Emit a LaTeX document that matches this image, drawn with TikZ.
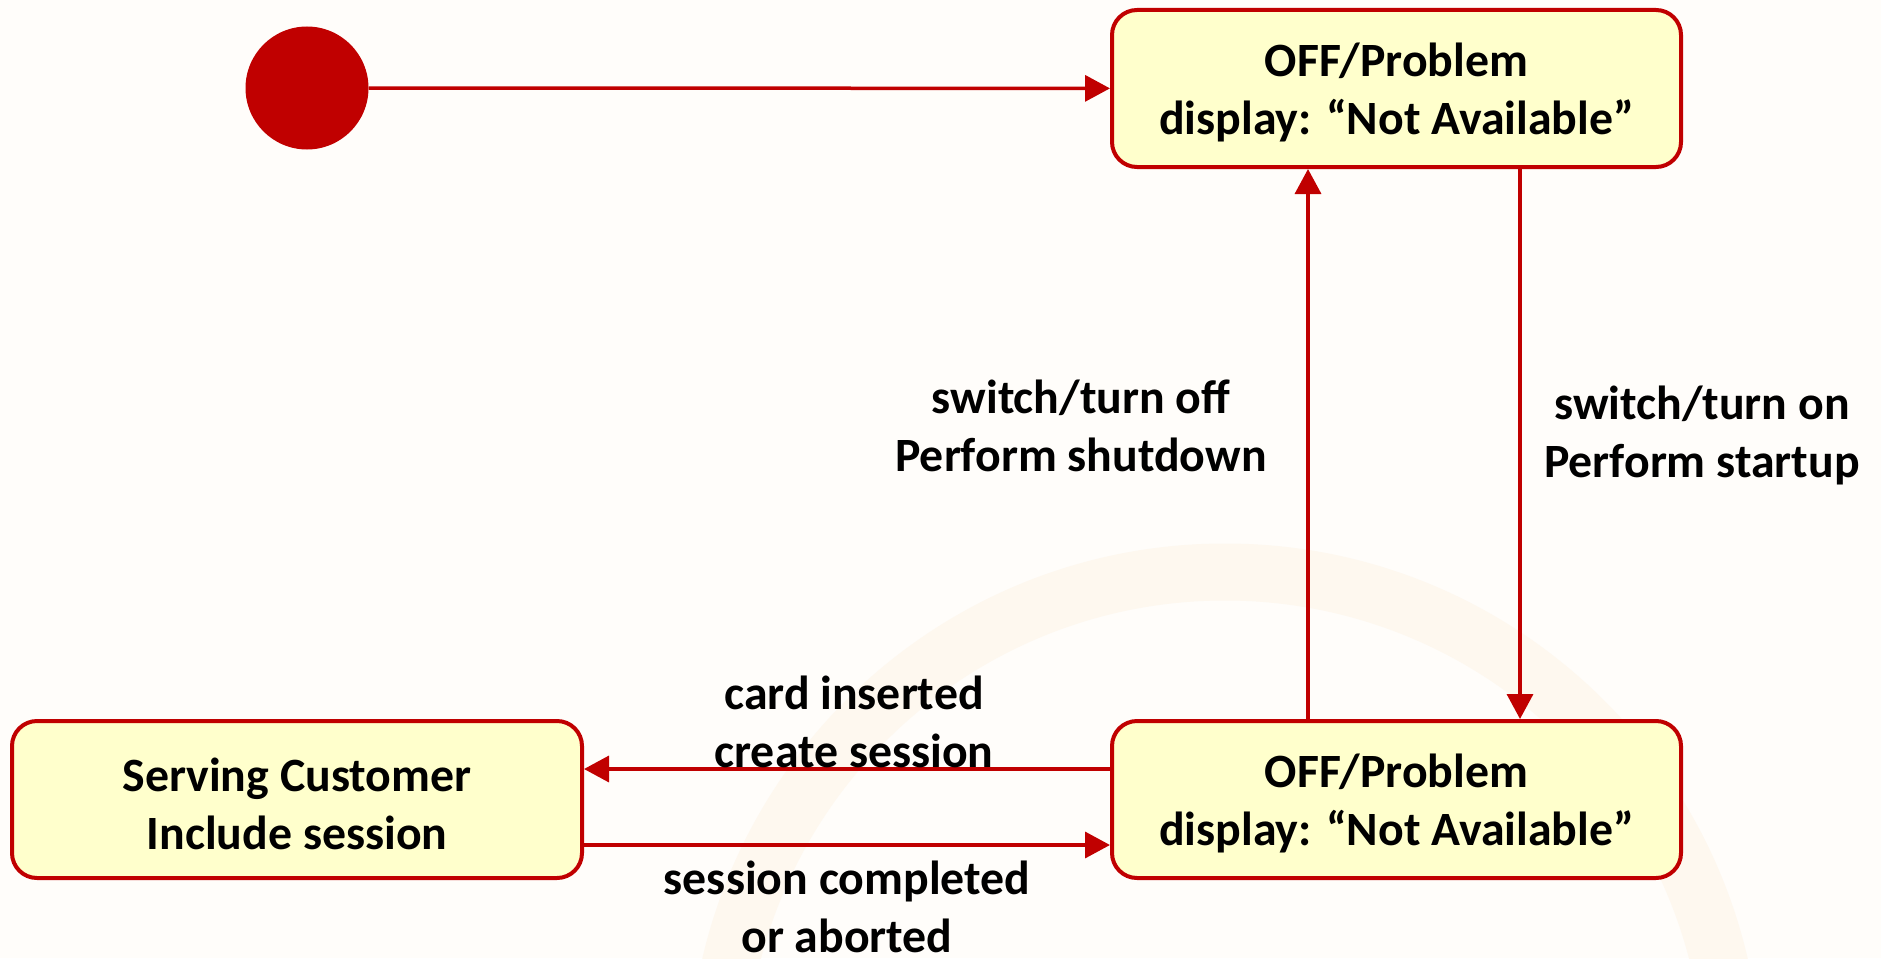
\documentclass[tikz,border=0pt]{standalone}
\usepackage{fontspec}
\setmainfont{Carlito}
\usetikzlibrary{arrows.meta,positioning}
\definecolor{umlred}{HTML}{C00000}
\definecolor{statefill}{HTML}{FFFFCC}
\definecolor{paper}{HTML}{FFFDFA}
\definecolor{ringtone}{HTML}{FEF8EF}
\tikzset{
  statebox/.style={draw=umlred, line width=4pt, fill=statefill, rounded corners=25pt,
    minimum width=569pt, minimum height=157pt, inner sep=0pt},
  txt/.style={font=\fontsize{47.8}{58}\selectfont\bfseries, align=center},
  statetext/.style={txt, yshift=-4pt},
  trans/.style={draw=umlred, line width=3.5pt, -{Triangle[length=25pt,width=26pt]}},
  initdot/.style={circle, fill=umlred, minimum size=123pt, inner sep=0pt},
}
\begin{document}
\begin{tikzpicture}[x=1pt,y=-1pt]
  % page and faint background ring
  \fill[paper] (0,0) rectangle (1881,958);
  \useasboundingbox (0,0) rectangle (1881,958);
  \begin{scope}
    \clip (0,0) rectangle (1881,958);
    \draw[ringtone, line width=57pt] (1225,1080) circle[radius=508pt];
  \end{scope}

  % states
  \node[initdot] (init) at (307,88) {};
  \node[statebox] (top) at (1396.5,88.5) {};
  \node[statetext] (toptext) at (top) {OFF/Problem\\display: “Not Available”};
  \node[statebox] (idle) at (1396.5,799.5) {};
  \node[statetext] (idletext) at (idle) {OFF/Problem\\display: “Not Available”};
  \node[statebox, minimum width=570pt] (serve) at (297,799.5) {};
  \node[statetext] (servetext) at (serve) {Serving Customer\\Include session};

  % connector lanes
  \coordinate (upx) at (1308,0);
  \coordinate (downx) at (1520,0);
  \coordinate (lefty) at (0,769);
  \coordinate (righty) at (0,845);

  % transitions
  \draw[trans] (init) -- (top);
  \draw[trans] (idle.north -| upx) -- (top.south -| upx);
  \draw[trans] (top.south -| downx) -- (idle.north -| downx);
  \draw[trans] (idle.west |- lefty) -- (serve.east |- lefty);
  \draw[trans] (serve.east |- righty) -- (idle.west |- righty);

  % transition labels
  \node[txt] (offlbl) at (1081,426) {switch/turn off\\Perform shutdown};
  \node[txt] (onlbl) at (1702,435) {switch/turn on\\Perform startup};
  \node[txt] (cardlbl) at (854,722) {card inserted\\create session};
  \node[txt] (donelbl) at (847,907) {session completed\\or aborted};
\end{tikzpicture}
\end{document}
